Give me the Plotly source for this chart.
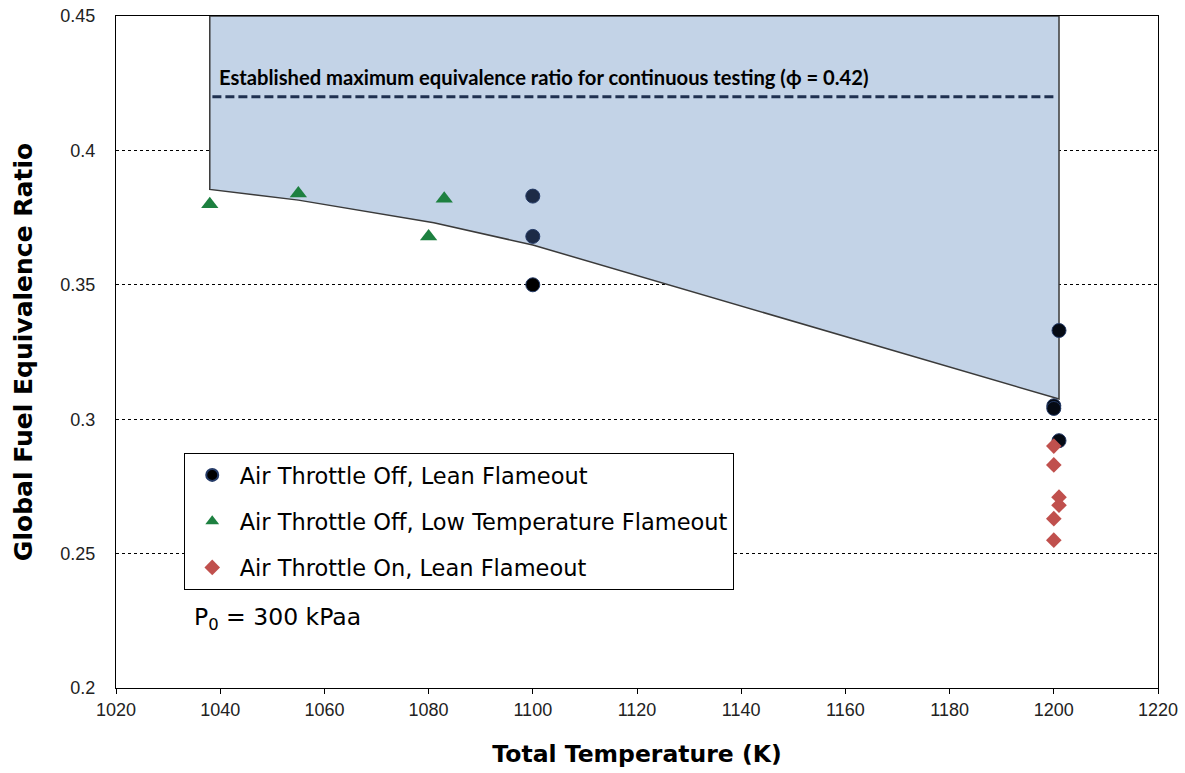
import plotly.graph_objects as go

# ---- data ----
lean_off_T = [1100, 1100, 1100, 1201, 1200, 1200, 1201]
lean_off_phi = [0.350, 0.383, 0.368, 0.333, 0.305, 0.304, 0.292]
lean_off_colors = ["#000000", "#1d2b46", "#1d2b46", "#050a14", "#050a14", "#050a14", "#050a14"]

lowT_T = [1038, 1055, 1080, 1083]
lowT_phi = [0.380, 0.384, 0.368, 0.382]

on_T = [1200, 1200, 1201, 1201, 1200, 1200]
on_phi = [0.290, 0.283, 0.271, 0.268, 0.263, 0.255]

# boundary of the stable-operation region
region_T = [1038, 1038, 1055, 1081, 1100, 1201, 1201, 1038]
region_phi = [0.45, 0.3855, 0.3815, 0.3731, 0.3648, 0.3075, 0.45, 0.45]

phi_max = 0.42
phi_max_T = [1038.5, 1200]

x_ticks = [1020, 1040, 1060, 1080, 1100, 1120, 1140, 1160, 1180, 1200, 1220]
y_ticks = [0.2, 0.25, 0.3, 0.35, 0.4, 0.45]
y_ticklabels = ["0.2", "0.25", "0.3", "0.35", "0.4", "0.45"]

SANS = "Liberation Sans, Arial"
WIDE = "DejaVu Sans"

fig = go.Figure()

fig.add_trace(go.Scatter(
    x=region_T, y=region_phi, mode="lines", fill="toself",
    fillcolor="#c3d3e7", line=dict(color="#3a3a3a", width=1.5),
    showlegend=False, hoverinfo="skip"))

fig.add_trace(go.Scatter(
    x=phi_max_T, y=[phi_max, phi_max], mode="lines",
    line=dict(color="#1f3050", width=3, dash="9px,4px"),
    showlegend=False, hoverinfo="skip"))

fig.add_trace(go.Scatter(
    x=lean_off_T, y=lean_off_phi, mode="markers",
    name="Air Throttle Off, Lean Flameout", legendgroup="a",
    marker=dict(symbol="circle", size=14, color=lean_off_colors,
                line=dict(color="#243a66", width=1))))

fig.add_trace(go.Scatter(
    x=lowT_T, y=lowT_phi, mode="markers",
    name="Air Throttle Off, Low Temperature Flameout", legendgroup="b",
    marker=dict(symbol="triangle-up", size=15, color="#1d8040")))

fig.add_trace(go.Scatter(
    x=on_T, y=on_phi, mode="markers",
    name="Air Throttle On, Lean Flameout", legendgroup="c",
    marker=dict(symbol="diamond", size=12, color="#c0504d")))

fig.add_annotation(
    x=1039.3, y=0.4273, xref="x", yref="y", xanchor="left", yanchor="middle",
    text="<b>Established maximum equivalence ratio for continuous testing (ϕ = 0.42)</b>",
    showarrow=False, font=dict(family="Lato", size=20.2, color="#000000"))

fig.add_annotation(
    x=0.073, y=0.104, xref="paper", yref="paper", xanchor="left", yanchor="middle",
    text="P<sub>0</sub> = 300 kPaa", showarrow=False,
    font=dict(family=WIDE, size=23.5, color="#000000"))

fig.update_layout(
    width=1185, height=773,
    margin=dict(l=116, r=27, t=16, b=85),
    paper_bgcolor="white", plot_bgcolor="white",
    font=dict(family=SANS, color="#000000"),
    legend=dict(x=0.065, y=0.35, xanchor="left", yanchor="top",
                bgcolor="white", bordercolor="#000000", borderwidth=1,
                font=dict(size=22.5, family=WIDE),
                tracegroupgap=14, itemsizing="constant", itemwidth=45),
    showlegend=True,
)

fig.update_xaxes(
    range=[1020, 1220], tickvals=x_ticks, showgrid=False, automargin=False,
    showline=True, linecolor="#000000", linewidth=1, mirror=True,
    ticks="outside", ticklen=5, tickcolor="#000000",
    tickfont=dict(size=18, color="#222222"), zeroline=False,
    title=dict(text="<b>Total Temperature (K)</b>", font=dict(size=23.5, family=WIDE), standoff=26))

fig.update_yaxes(
    range=[0.2, 0.45], tickvals=y_ticks, ticktext=y_ticklabels,
    showgrid=True, gridcolor="#000000", gridwidth=1, griddash="dot", automargin=False,
    showline=True, linecolor="#000000", linewidth=1, mirror=True,
    ticks="", ticklabelstandoff=16,
    tickfont=dict(size=18, color="#222222"), zeroline=False,
    title=dict(text="<b>Global Fuel Equivalence Ratio</b>", font=dict(size=25, family=WIDE), standoff=20))

fig.write_html("out.html")
